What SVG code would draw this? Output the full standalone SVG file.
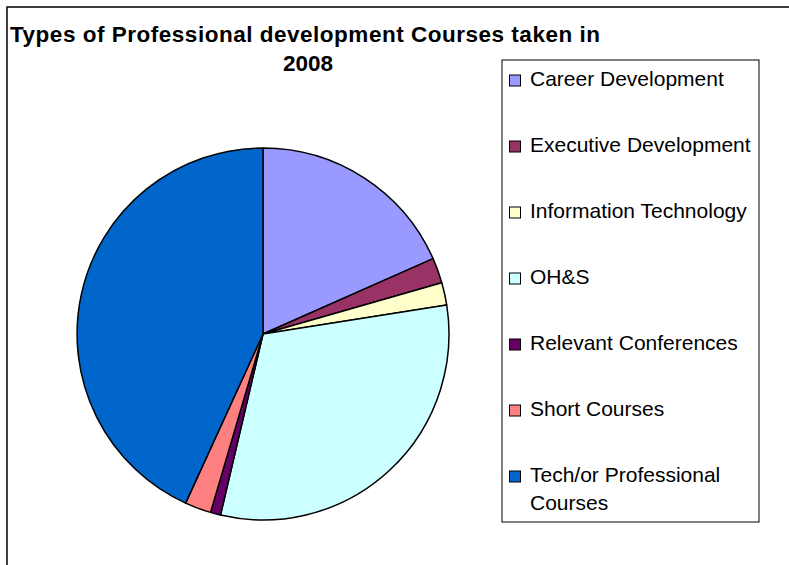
<svg xmlns="http://www.w3.org/2000/svg" width="789" height="565" viewBox="0 0 789 565">
<style>
.sl{stroke:#000;stroke-width:1.5;stroke-linejoin:round}
.t{font-family:"Liberation Sans",Arial,sans-serif;font-weight:bold;font-size:22.5px;fill:#000}
.lg{font-family:"Liberation Sans",Arial,sans-serif;font-size:21px;fill:#000}
.sw{stroke:#000;stroke-width:1}
</style>
<rect x="0" y="0" width="789" height="565" fill="#fff"/>
<path d="M7,565 V7 H789" fill="none" stroke="#000" stroke-width="1.5"/>
<g id="title">
<text class="t" x="10" y="42" textLength="590" lengthAdjust="spacing">Types of Professional development Courses taken in</text>
<text class="t" x="308" y="71" text-anchor="middle">2008</text>
</g>
<g id="pie">
<path id="career" class="sl" fill="#9999FF" d="M263,334 L263,148 A186,186 0 0 1 433.1,258.6 Z"/>
<path id="executive" class="sl" fill="#993366" d="M263,334 L433.1,258.6 A186,186 0 0 1 441.8,282.7 Z"/>
<path id="it" class="sl" fill="#FFFFCC" d="M263,334 L441.8,282.7 A186,186 0 0 1 446.7,304.9 Z"/>
<path id="ohs" class="sl" fill="#CCFFFF" d="M263,334 L446.7,304.9 A186,186 0 0 1 220.5,515.1 Z"/>
<path id="relevant" class="sl" fill="#660066" d="M263,334 L220.5,515.1 A186,186 0 0 1 210.5,512.4 Z"/>
<path id="short" class="sl" fill="#FF8080" d="M263,334 L210.5,512.4 A186,186 0 0 1 185.6,503.1 Z"/>
<path id="tech" class="sl" fill="#0066CC" d="M263,334 L185.6,503.1 A186,186 0 0 1 263,148 Z"/>
</g>
<g id="legend">
<rect x="502" y="60" width="257" height="462" fill="#fff" stroke="#000" stroke-width="1"/>
<rect class="sw" x="509.5" y="75" width="11" height="11" fill="#9999FF"/>
<text class="lg" x="530" y="86">Career Development</text>
<rect class="sw" x="509.5" y="141" width="11" height="11" fill="#993366"/>
<text class="lg" x="530" y="152">Executive Development</text>
<rect class="sw" x="509.5" y="207" width="11" height="11" fill="#FFFFCC"/>
<text class="lg" x="530" y="218">Information Technology</text>
<rect class="sw" x="509.5" y="273" width="11" height="11" fill="#CCFFFF"/>
<text class="lg" x="530" y="284">OH&amp;S</text>
<rect class="sw" x="509.5" y="339" width="11" height="11" fill="#660066"/>
<text class="lg" x="530" y="350">Relevant Conferences</text>
<rect class="sw" x="509.5" y="405" width="11" height="11" fill="#FF8080"/>
<text class="lg" x="530" y="416">Short Courses</text>
<rect class="sw" x="509.5" y="471" width="11" height="11" fill="#0066CC"/>
<text class="lg" x="530" y="482">Tech/or Professional</text>
<text class="lg" x="530" y="510">Courses</text>
</g>
</svg>
